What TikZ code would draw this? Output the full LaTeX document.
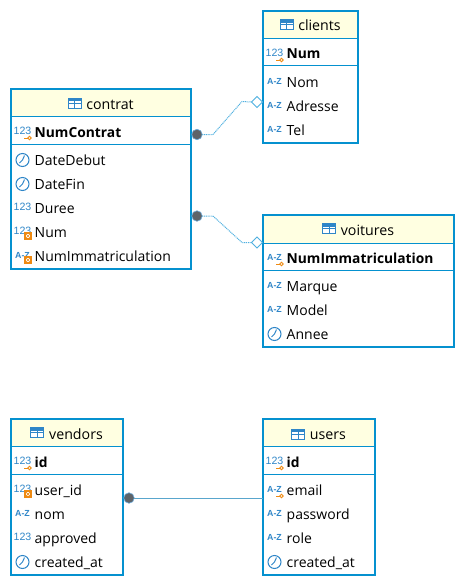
\documentclass[tikz,border=0pt]{standalone}
\usepackage{fontspec}
\setmainfont{Open Sans}
\newfontfamily\iconfont{Liberation Sans}
\usetikzlibrary{shapes.geometric}
\definecolor{boxblue}{HTML}{0591CF}
\definecolor{iconblue}{HTML}{2F86C8}
\definecolor{headyellow}{HTML}{FFFFE1}
\definecolor{keyorange}{HTML}{EE8A12}
\definecolor{relblue}{HTML}{4FB0E0}
\definecolor{dotgray}{HTML}{5E6368}
\tikzset{
  x=1pt,y=-1pt,
  tablebox/.style={draw=boxblue,line width=2pt,rectangle,inner sep=0pt,outer sep=0pt,anchor=north west},
  headbox/.style={fill=headyellow,rectangle,inner sep=0pt,outer sep=0pt,anchor=north west},
  sepline/.style={draw=boxblue,line width=1pt},
  fieldtext/.style={font=\fontsize{14pt}{16pt}\selectfont,text=black,inner sep=0pt,anchor=base west},
  keytext/.style={font=\fontsize{13.8pt}{16pt}\selectfont\bfseries},
  plaintext/.style={},
  titletext/.style={font=\fontsize{14.2pt}{16pt}\selectfont,text=black,inner sep=0pt,anchor=base},
  icontext/.style={text=iconblue,inner sep=0pt,anchor=center},
  reldot/.style={circle,fill=dotgray,draw=iconblue!70,line width=.6pt,minimum size=10.5pt,inner sep=0pt,outer sep=0pt},
  reldiamond/.style={diamond,aspect=1,fill=white,draw=relblue,line width=1pt,minimum size=11pt,inner sep=0pt,outer sep=0pt},
  relline/.style={draw=relblue,line width=1pt,dash pattern=on 1pt off .8pt},
  relsolid/.style={draw=relblue!80!gray,line width=1pt},
  icnum/.pic={\node[icontext,font=\iconfont\fontsize{10.6pt}{11pt}\selectfont] (n) at (11.5,-1) {123};},
  icaz/.pic={\node[icontext,font=\iconfont\bfseries\fontsize{8.8pt}{10pt}\selectfont] (n) at (11.5,-1) {A-Z};},
  icclock/.pic={
    \draw[iconblue,line width=1pt] (11.5,0) circle (6.5);
    \draw[iconblue,line width=1pt] (11.5,0) -- (13.5,-4.5) (11.5,0) -- (8.5,3);},
  ickey/.pic={
    \draw[keyorange,line width=.9pt] (13,6) -- (17,6);
    \draw[keyorange,line width=.9pt] (18.5,6) circle (1.8);},
  icfk/.pic={
    \fill[white] (13,0) rectangle (20,7);
    \draw[keyorange,line width=1.4pt] (14,1) rectangle (20,7);
    \draw[keyorange,line width=.7pt] (15,2) -- (19,6) (15,6) -- (19,2);},
}
% #1 name, #2 left, #3 top, #4 width, #5 height, #6 title, #7 y of first rule, #8 y of second rule
\newcommand{\erdtable}[8]{
  \node[headbox,minimum width=#4pt,minimum height=#7pt-#3pt] (#1-head) at (#2,#3) {};
  \node[tablebox,minimum width=#4pt,minimum height=#5pt] (#1) at (#2,#3) {};
  \draw[sepline] (#2,#7) -- (#2+#4,#7);
  \draw[sepline] (#2,#8) -- (#2+#4,#8);
  \node[titletext] (#1-title) at (#2+#4/2+9,#3+20) {#6};
  \draw[iconblue,line width=1pt,fill=white] (#1-title.west) ++(-18,-6) coordinate (#1-ic) rectangle ++(13,10);
  \fill[iconblue] (#1-ic) rectangle ++(13,3);
  \draw[iconblue,line width=1pt] (#1-ic) ++(6.5,0) -- ++(0,10) (#1-ic) ++(0,5) -- ++(13,0);
}
% #1 name, #2 table left, #3 row centre y, #4 pics, #5 style, #6 text
\newcommand{\erdfield}[6]{
  \begin{scope}[shift={(#2,#3)}]
    \foreach \ic in {#4} {\pic {\ic};}
  \end{scope}
  \node[fieldtext,#5] (#1) at (#2+23.5,#3+5) {#6};
}
\begin{document}
\begin{tikzpicture}
\useasboundingbox (0,0) rectangle (465,586);
\fill[white] (0,0) rectangle (465,586);

\erdtable{contrat}{11}{89}{180}{180}{contrat}{116}{144}
\erdfield{c1}{11}{132}{icnum,ickey}{keytext}{NumContrat}
\erdfield{c2}{11}{160}{icclock}{plaintext}{DateDebut}
\erdfield{c3}{11}{184}{icclock}{plaintext}{DateFin}
\erdfield{c4}{11}{208}{icnum}{plaintext}{Duree}
\erdfield{c5}{11}{232}{icnum,icfk}{plaintext}{Num}
\erdfield{c6}{11}{256}{icaz,icfk}{plaintext}{NumImmatriculation}

\erdtable{clients}{263}{11}{95}{132}{clients}{39}{66}
\erdfield{k1}{263}{54}{icnum,ickey}{keytext}{Num}
\erdfield{k2}{263}{82}{icaz}{plaintext}{Nom}
\erdfield{k3}{263}{106}{icaz}{plaintext}{Adresse}
\erdfield{k4}{263}{130}{icaz}{plaintext}{Tel}

\erdtable{voitures}{263}{215}{191}{132}{voitures}{243}{270}
\erdfield{v1}{263}{258}{icaz,ickey}{keytext}{NumImmatriculation}
\erdfield{v2}{263}{286}{icaz}{plaintext}{Marque}
\erdfield{v3}{263}{310}{icaz}{plaintext}{Model}
\erdfield{v4}{263}{334}{icclock}{plaintext}{Annee}

\erdtable{vendors}{11}{419}{112}{156}{vendors}{446}{474}
\erdfield{n1}{11}{462}{icnum,ickey}{keytext}{id}
\erdfield{n2}{11}{490}{icnum,icfk}{plaintext}{user\_id}
\erdfield{n3}{11}{514}{icaz}{plaintext}{nom}
\erdfield{n4}{11}{538}{icnum}{plaintext}{approved}
\erdfield{n5}{11}{562}{icclock}{plaintext}{created\_at}

\erdtable{users}{263}{419}{112}{156}{users}{446}{474}
\erdfield{u1}{263}{462}{icnum,ickey}{keytext}{id}
\erdfield{u2}{263}{490}{icaz,ickey}{plaintext}{email}
\erdfield{u3}{263}{514}{icaz}{plaintext}{password}
\erdfield{u4}{263}{538}{icaz}{plaintext}{role}
\erdfield{u5}{263}{562}{icclock}{plaintext}{created\_at}

\node[reldot] (dotA) at (197,134.5) {};
\node[reldiamond] (diaA) at (257,102) {};
\draw[relline] (dotA.east) -- (213,134.5) -- (242,101.5) -- (diaA.west);

\node[reldot] (dotB) at (197,216) {};
\node[reldiamond] (diaB) at (257,242.5) {};
\draw[relline] (dotB.east) -- (213,216) -- (242,242.5) -- (diaB.west);

\node[reldot] (dotC) at (129,498) {};
\draw[relsolid] (dotC.east) -- (users.west |- dotC.east);
\end{tikzpicture}
\end{document}
